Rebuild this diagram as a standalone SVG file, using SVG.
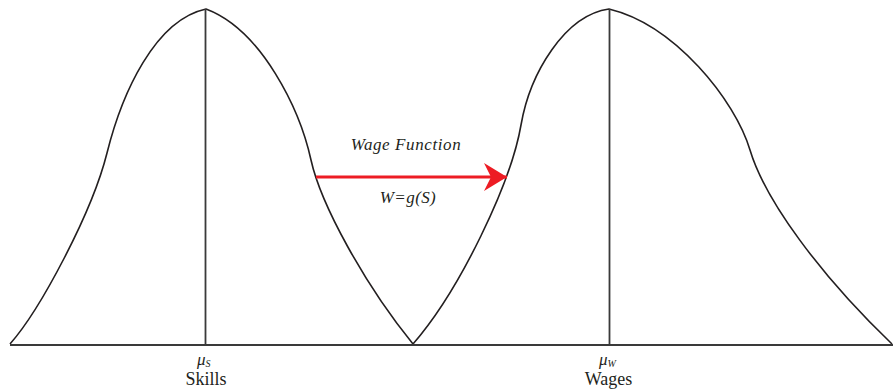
<svg xmlns="http://www.w3.org/2000/svg" width="893" height="389" viewBox="0 0 893 389">
<style>
.curve{fill:none;stroke:#231f20;stroke-width:1.6}
.axis{fill:none;stroke:#3a3a3a;stroke-width:1.8}
.lbl{font-family:"Liberation Serif",serif;fill:#231f20}
.it{font-style:italic}
</style>
<defs>
<marker id="ah" markerWidth="24" markerHeight="28" refX="23" refY="14" orient="auto" markerUnits="userSpaceOnUse">
<path d="M23,14 L0,0 L7,14 L0,28 Z" fill="#ed1c24"/>
</marker>
</defs>
<rect width="893" height="389" fill="#fff"/>
<g id="skills-dist">
<path class="curve" d="M10,344 C40,310 92,213 107,153 C122,93 155,20 206,9 C262,30 300,110 311,160 C321,205 365,285 413,344"/>
<line class="axis" x1="205.5" y1="9" x2="205.5" y2="345"/>
</g>
<g id="wages-dist">
<path class="curve" d="M413,344 C460,290 511,183 521,125 C530,73 565,15 609,9 C675,25 735,100 750,150 C765,200 820,275 892,344"/>
<line class="axis" x1="609.5" y1="9" x2="609.5" y2="345"/>
</g>
<g id="baseline">
<line class="axis" x1="10" y1="345" x2="893" y2="345"/>
</g>
<g id="connectors">
<line x1="316" y1="177" x2="507" y2="177" stroke="#ed1c24" stroke-width="3" marker-end="url(#ah)"/>
</g>
<g id="wage-function-label">
<text class="lbl it" x="406" y="150" font-size="17" letter-spacing="0.6" text-anchor="middle">Wage Function</text>
<text class="lbl it" x="408" y="203" font-size="17" letter-spacing="0.4" text-anchor="middle">W=g(S)</text>
</g>
<g id="skills-label">
<text class="lbl" x="197" y="365" font-size="17"><tspan class="it">μ</tspan><tspan class="it" font-size="10" dy="2">S</tspan></text>
<text class="lbl" x="206" y="385" font-size="18" text-anchor="middle">Skills</text>
</g>
<g id="wages-label">
<text class="lbl" x="599" y="365" font-size="17"><tspan class="it">μ</tspan><tspan class="it" font-size="10" dy="2">W</tspan></text>
<text class="lbl" x="608.5" y="385" font-size="18" text-anchor="middle">Wages</text>
</g>
</svg>
